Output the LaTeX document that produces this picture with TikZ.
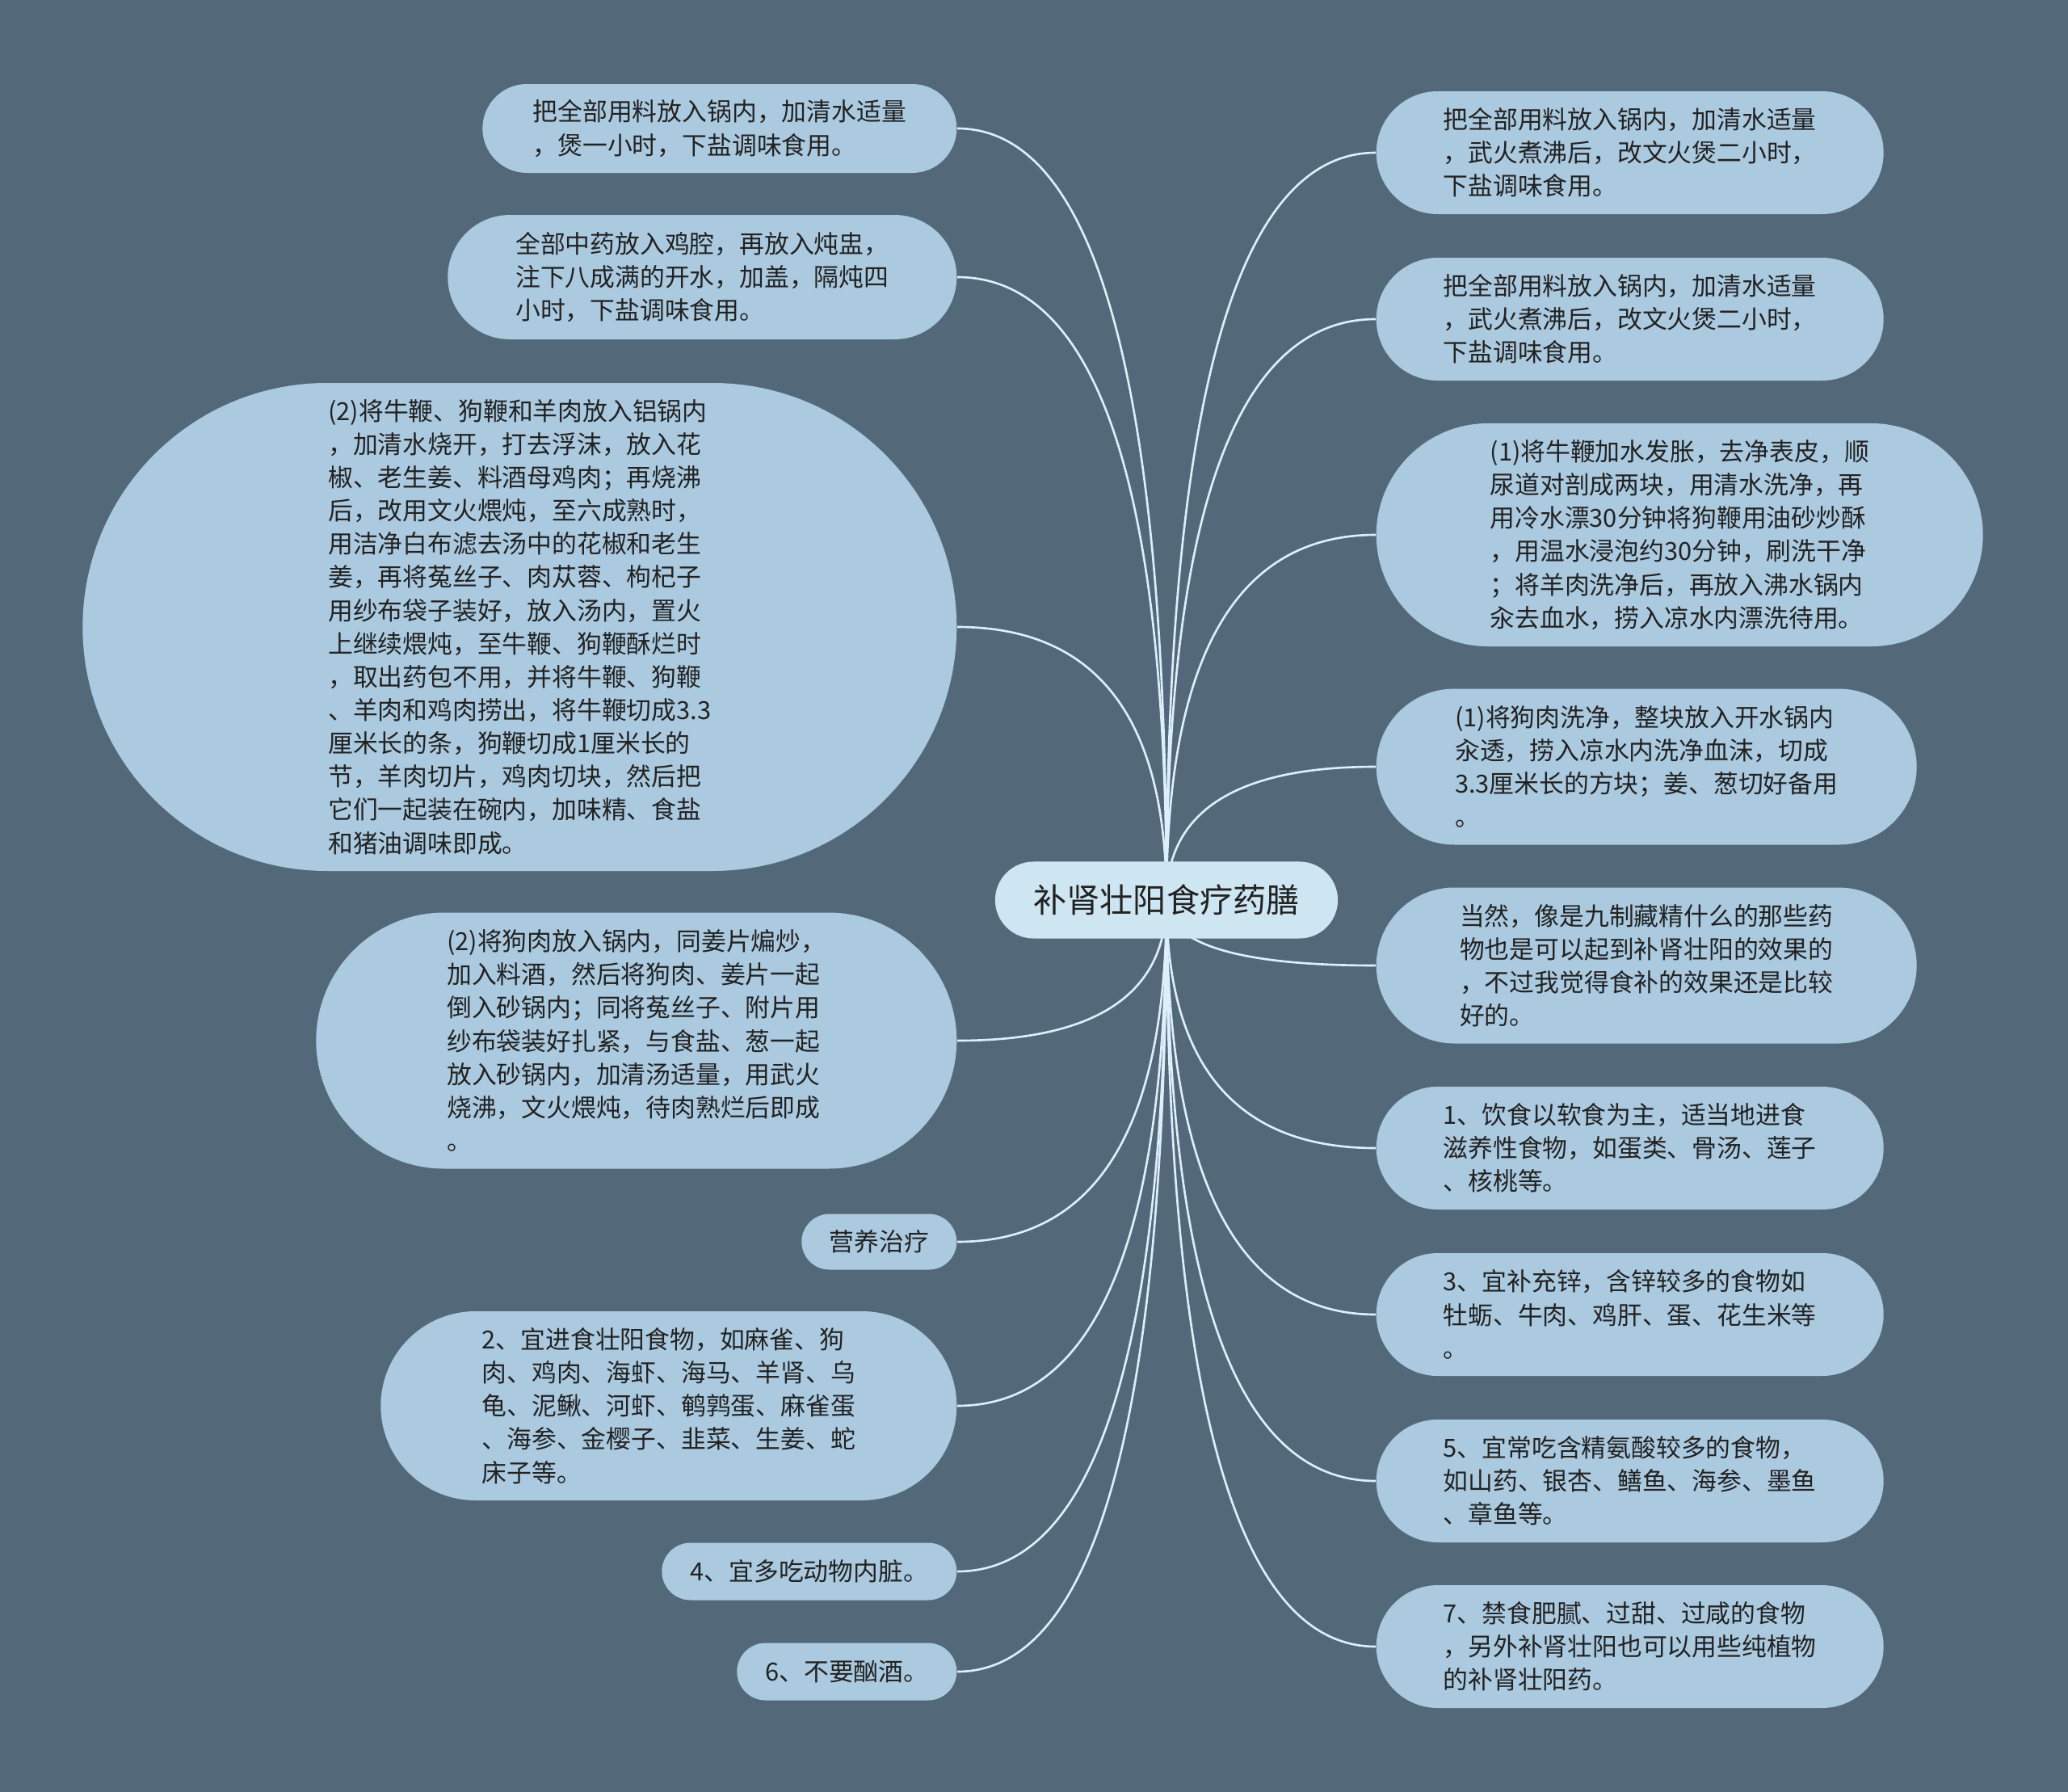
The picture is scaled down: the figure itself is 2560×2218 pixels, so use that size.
\documentclass[tikz,border=0pt]{standalone}
\usepackage{fontspec}
\newfontfamily\cjkfont{Noto Sans CJK SC}
\usetikzlibrary{calc}
\definecolor{bgslate}{HTML}{536979}
\definecolor{leafblue}{HTML}{ABCAE0}
\definecolor{hubblue}{HTML}{CEE5F2}
\definecolor{linkblue}{HTML}{DCEFFA}
\definecolor{inkgray}{HTML}{222222}
\newcommand{\leaffont}{\cjkfont\fontsize{8.76pt}{11.7pt}\selectfont}
\newcommand{\hubfont}{\cjkfont\fontsize{11.7pt}{14pt}\selectfont}
\pgfdeclarelayer{bg}
\pgfdeclarelayer{links}
\pgfsetlayers{bg,links,main}

\begin{document}
\begin{tikzpicture}[
            x=0.01cm, y=-0.01cm,
            % styles
            hub/.style={rectangle, fill=hubblue, text=inkgray, font=\hubfont, inner sep=0pt, minimum width=4.24cm, minimum height=0.95cm, rounded corners=0.475cm},
            topic/.style={rectangle, fill=leafblue, text=inkgray, font=\leaffont, align=left, inner sep=0pt},
            pill/.style 2 args={minimum width=#1*0.01cm, minimum height=#2*0.01cm, rounded corners=#2*0.005cm},
            link/.style={draw=linkblue, line width=0.75pt}
        ]

        \begin{pgfonlayer}{bg}
            \fill [bgslate] (0,0) rectangle (2560,2218);
        \end{pgfonlayer}

        % centre
        \node (hub) [hub] at (1444,1114) {补肾壮阳食疗药膳};

        % left side, right edges at x=1185
        \node (l1) [topic, pill={587}{110}, anchor=east] at (1185,159) {把全部用料放入锅内，加清水适量\\，煲一小时，下盐调味食用。};
        \node (l2) [topic, pill={630}{154}, anchor=east] at (1185,343) {全部中药放入鸡腔，再放入炖盅，\\注下八成满的开水，加盖，隔炖四\\小时，下盐调味食用。};
        \node (l3) [topic, pill={1082}{604}, anchor=east] at (1185,776) {(2)将牛鞭、狗鞭和羊肉放入铝锅内\\，加清水烧开，打去浮沫，放入花\\椒、老生姜、料酒母鸡肉；再烧沸\\后，改用文火煨炖，至六成熟时，\\用洁净白布滤去汤中的花椒和老生\\姜，再将菟丝子、肉苁蓉、枸杞子\\用纱布袋子装好，放入汤内，置火\\上继续煨炖，至牛鞭、狗鞭酥烂时\\，取出药包不用，并将牛鞭、狗鞭\\、羊肉和鸡肉捞出，将牛鞭切成3.3\\厘米长的条，狗鞭切成1厘米长的\\节，羊肉切片，鸡肉切块，然后把\\它们一起装在碗内，加味精、食盐\\和猪油调味即成。};
        \node (l4) [topic, pill={793}{317}, anchor=east] at (1185,1288) {(2)将狗肉放入锅内，同姜片煸炒，\\加入料酒，然后将狗肉、姜片一起\\倒入砂锅内；同将菟丝子、附片用\\纱布袋装好扎紧，与食盐、葱一起\\放入砂锅内，加清汤适量，用武火\\烧沸，文火煨炖，待肉熟烂后即成\\。};
        \node (l5) [topic, pill={192}{69}, anchor=east] at (1185,1537) {营养治疗};
        \node (l6) [topic, pill={713}{234}, anchor=east] at (1185,1740) {2、宜进食壮阳食物，如麻雀、狗\\肉、鸡肉、海虾、海马、羊肾、乌\\龟、泥鳅、河虾、鹌鹑蛋、麻雀蛋\\、海参、金樱子、韭菜、生姜、蛇\\床子等。};
        \node (l7) [topic, pill={365}{71}, anchor=east] at (1185,1945) {4、宜多吃动物内脏。};
        \node (l8) [topic, pill={272}{71}, anchor=east] at (1185,2069) {6、不要酗酒。};

        % right side, left edges at x=1703
        \node (r1) [topic, pill={628}{152}, anchor=west] at (1703,189) {把全部用料放入锅内，加清水适量\\，武火煮沸后，改文火煲二小时，\\下盐调味食用。};
        \node (r2) [topic, pill={628}{152}, anchor=west] at (1703,395) {把全部用料放入锅内，加清水适量\\，武火煮沸后，改文火煲二小时，\\下盐调味食用。};
        \node (r3) [topic, pill={751}{276}, anchor=west] at (1703,662) {(1)将牛鞭加水发胀，去净表皮，顺\\尿道对剖成两块，用清水洗净，再\\用冷水漂30分钟将狗鞭用油砂炒酥\\，用温水浸泡约30分钟，刷洗干净\\；将羊肉洗净后，再放入沸水锅内\\汆去血水，捞入凉水内漂洗待用。};
        \node (r4) [topic, pill={669}{193}, anchor=west] at (1703,949) {(1)将狗肉洗净，整块放入开水锅内\\汆透，捞入凉水内洗净血沫，切成\\3.3厘米长的方块；姜、葱切好备用\\。};
        \node (r5) [topic, pill={669}{193}, anchor=west] at (1703,1195) {当然，像是九制藏精什么的那些药\\物也是可以起到补肾壮阳的效果的\\，不过我觉得食补的效果还是比较\\好的。};
        \node (r6) [topic, pill={628}{152}, anchor=west] at (1703,1421) {1、饮食以软食为主，适当地进食\\滋养性食物，如蛋类、骨汤、莲子\\、核桃等。};
        \node (r7) [topic, pill={628}{152}, anchor=west] at (1703,1627) {3、宜补充锌，含锌较多的食物如\\牡蛎、牛肉、鸡肝、蛋、花生米等\\。};
        \node (r8) [topic, pill={628}{152}, anchor=west] at (1703,1833) {5、宜常吃含精氨酸较多的食物，\\如山药、银杏、鳝鱼、海参、墨鱼\\、章鱼等。};
        \node (r9) [topic, pill={628}{152}, anchor=west] at (1703,2038) {7、禁食肥腻、过甜、过咸的食物\\，另外补肾壮阳也可以用些纯植物\\的补肾壮阳药。};

        % connections
        \begin{pgfonlayer}{links}
            \foreach \n in {l1,l2,l3,l4,l5,l6,l7,l8} {
                \coordinate (knee) at (hub.center |- \n.east);
                \draw [link] (hub.center) .. controls ($(hub.center)!2/3!(knee)$) and ($(\n.east)!2/3!(knee)$) .. (\n.east);
            }
            \foreach \n in {r1,r2,r3,r4,r5,r6,r7,r8,r9} {
                \coordinate (knee) at (hub.center |- \n.west);
                \draw [link] (hub.center) .. controls ($(hub.center)!2/3!(knee)$) and ($(\n.west)!2/3!(knee)$) .. (\n.west);
            }
        \end{pgfonlayer}

\end{tikzpicture}
\end{document}
